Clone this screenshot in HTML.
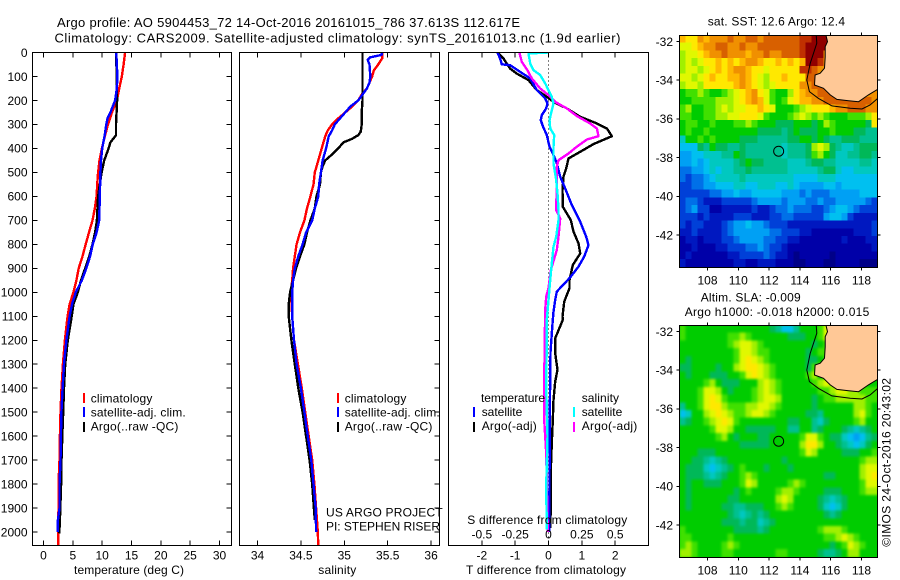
<!DOCTYPE html>
<html lang="en">
<head>
<meta charset="utf-8">
<title>Argo profile 5904453_72</title>
<style>
html,body{margin:0;padding:0;background:#fff;width:900px;height:580px;overflow:hidden}
svg{display:block}
text{font-family:"Liberation Sans",sans-serif;font-size:12px;fill:#000}
</style>
</head>
<body>
<svg id="figure" xmlns="http://www.w3.org/2000/svg" width="900" height="580" viewBox="0 0 900 580">
<defs>
<clipPath id="clip-temp"><rect x="32.5" y="52.5" width="199" height="493"/></clipPath>
<clipPath id="clip-sal"><rect x="239.5" y="52.5" width="200" height="493"/></clipPath>
<clipPath id="clip-diff"><rect x="448.5" y="52.5" width="200" height="493"/></clipPath>
<clipPath id="clip-sst"><rect x="679.5" y="35.5" width="198" height="232"/></clipPath>
<clipPath id="clip-sla"><rect x="679.5" y="325.5" width="198" height="232"/></clipPath>
</defs>
<text x="57" y="27" style="font-size:13px" textLength="463" lengthAdjust="spacing">Argo profile: AO 5904453_72 14-Oct-2016 20161015_786 37.613S 112.617E</text>
<text x="54.5" y="42.5" style="font-size:13px" textLength="566" lengthAdjust="spacing">Climatology: CARS2009. Satellite-adjusted climatology: synTS_20161013.nc (1.9d earlier)</text>
<g id="panel-temp"></g>
<g id="panel-sal"></g>
<g id="panel-diff"></g>
<text x="74" y="574" textLength="110" lengthAdjust="spacing">temperature (deg C)</text>
<text x="318.3" y="574" textLength="38" lengthAdjust="spacing">salinity</text>
<text x="466" y="574" textLength="160" lengthAdjust="spacing">T difference from climatology</text>
<text x="467.3" y="524" textLength="160" lengthAdjust="spacing">S difference from climatology</text>

<g>
<rect x="83" y="393" width="2" height="10" fill="#ff0000"/>
<rect x="83" y="407" width="2" height="10" fill="#0000ff"/>
<rect x="83" y="422" width="2" height="10" fill="#000"/>
<text x="90.7" y="402.3" textLength="61.7" lengthAdjust="spacing">climatology</text>
<text x="90.7" y="416.3" textLength="95" lengthAdjust="spacing">satellite-adj. clim.</text>
<text x="90.7" y="430.3" textLength="87.7" lengthAdjust="spacing">Argo(..raw -QC)</text>
</g>
<g>
<rect x="337" y="393" width="2" height="10" fill="#ff0000"/>
<rect x="337" y="407" width="2" height="10" fill="#0000ff"/>
<rect x="337" y="422" width="2" height="10" fill="#000"/>
<text x="344.7" y="402.3" textLength="61.7" lengthAdjust="spacing">climatology</text>
<text x="344.7" y="416.3" textLength="95" lengthAdjust="spacing">satellite-adj. clim.</text>
<text x="344.7" y="430.3" textLength="87.7" lengthAdjust="spacing">Argo(..raw -QC)</text>
</g>
<text x="326" y="516.7" textLength="116.7" lengthAdjust="spacing">US ARGO PROJECT</text>
<text x="326" y="530.7" textLength="114" lengthAdjust="spacing">PI: STEPHEN RISER</text>

<g>
<text x="481" y="402" textLength="64" lengthAdjust="spacing">temperature</text>
<text x="481.7" y="416" textLength="40.6" lengthAdjust="spacing">satellite</text>
<text x="481.7" y="430" textLength="55" lengthAdjust="spacing">Argo(-adj)</text>
<rect x="473" y="407" width="2" height="10" fill="#0000ff"/>
<rect x="473" y="422" width="2" height="10" fill="#000"/>
<text x="581.7" y="402" textLength="37.3" lengthAdjust="spacing">salinity</text>
<text x="581.7" y="416" textLength="40.6" lengthAdjust="spacing">satellite</text>
<text x="581.7" y="430" textLength="55.6" lengthAdjust="spacing">Argo(-adj)</text>
<rect x="573" y="407" width="2" height="10" fill="#00ffff"/>
<rect x="573" y="422" width="2" height="10" fill="#ff00ff"/>
</g>

<text x="707.7" y="25.7" textLength="137.3" lengthAdjust="spacing">sat. SST: 12.6 Argo: 12.4</text>
<text x="700.7" y="301.3" textLength="100" lengthAdjust="spacing">Altim. SLA: -0.009</text>
<text x="684.7" y="316" textLength="184.6" lengthAdjust="spacing">Argo h1000: -0.018 h2000: 0.015</text>
<g id="map-sst"></g>
<g id="map-sla"></g>
<text transform="translate(890.7 546.7) rotate(-90)" x="0" y="0" textLength="168.7" lengthAdjust="spacing">©IMOS 24-Oct-2016 20:43:02</text>
</svg>

<script>
// ---------- profile data (depth in dbar) ----------
const depthTicks = [0,100,200,300,400,500,600,700,800,900,1000,1100,1200,1300,1400,1500,1600,1700,1800,1900,2000];
const tempTicks = [0,5,10,15,20,25,30];
const salTicks = [34,34.5,35,35.5,36];
const salTickLabels = ['34','34.5','35','35.5','36'];
const tDiffTicks = [-2,-1,0,1,2];
const sDiffTickLabels = ['-0.5','-0.25','0','0.25','0.5'];

const climTempDepth = [0,50,100,150,200,250,300,350,400,450,500,550,600,650,700,750,800,850,900,950,1000,1050,1100,1150,1200,1300,1400,1500,1600,1700,1800,1900,2000,2060];
const climTemp = [13.9,13.65,13.35,12.9,12.5,11.65,11.0,10.45,9.95,9.55,9.3,9.15,9.05,8.75,8.35,7.75,7.2,6.65,6.0,5.6,5.1,4.45,4.1,3.87,3.65,3.3,3.07,2.9,2.8,2.73,2.56,2.56,2.5,2.5];
const satTempDepth = [0,50,100,150,200,225,250,275,300,350,400,450,500,600,700,750,800,850,900,950,1000,1050,1100,1200,1300,1400,1500,1600,1700,1800,1900,1950,2000];
const satTemp = [12.4,12.5,12.6,12.5,12.2,11.8,11.4,10.9,10.7,10.4,10,9.8,9.7,9.6,9.5,9.05,8.4,7.95,7.3,6.55,5.5,4.85,4.45,3.9,3.5,3.25,3.05,2.97,2.9,2.73,2.73,2.45,2.45];
const argoTempDepth = [0,100,200,300,345,375,400,450,500,550,600,650,700,750,800,850,900,950,1000,1050,1100,1200,1300,1400,1500,1600,1700,1750,1950,2005];
const argoTemp = [12.35,12.5,12.55,12.35,12.35,11.4,11.1,10.35,9.9,9.6,9.3,9.2,9.1,8.8,8.35,7.8,7.1,6.4,5.85,5.1,4.8,4.15,3.7,3.5,3.35,3.2,3.07,3.07,2.8,2.7];

const climSalDepth = [0,25,50,75,100,125,150,175,200,225,250,275,300,325,350,400,450,500,550,600,650,700,750,800,850,900,950,1000,1100,1200,1300,1400,1500,1600,1700,1800,1900,2000,2060];
const climSal = [35.44,35.435,35.39,35.34,35.32,35.29,35.26,35.2,35.16,35.09,35.01,34.93,34.86,34.81,34.78,34.74,34.7,34.66,34.645,34.61,34.57,34.54,34.49,34.45,34.43,34.41,34.4,34.385,34.4,34.42,34.465,34.51,34.55,34.59,34.63,34.655,34.675,34.695,34.7];
const satSalDepth = [0,10,20,30,50,100,125,150,175,200,225,250,275,300,325,350,400,450,500,550,600,650,700,750,800,850,900,950,1000,1100,1200,1300,1400,1500,1600,1700,1800,1900,2000];
const satSal = [35.43,35.43,35.3,35.27,35.29,35.3,35.29,35.26,35.21,35.16,35.07,35.01,34.95,34.89,34.86,34.82,34.79,34.75,34.73,34.71,34.7,34.66,34.63,34.56,34.52,34.47,34.43,34.41,34.4,34.4,34.42,34.45,34.5,34.54,34.58,34.62,34.645,34.67,34.675];
const argoSalDepth = [0,100,200,250,300,330,345,360,375,400,425,450,475,500,550,600,650,700,750,800,850,900,950,1000,1050,1100,1200,1300,1400,1500,1600,1700,1800,1900,1950];
const argoSal = [35.21,35.21,35.21,35.2,35.2,35.19,35.16,35.09,34.99,34.93,34.86,34.78,34.75,34.73,34.72,34.68,34.66,34.61,34.57,34.54,34.49,34.445,34.41,34.375,34.36,34.36,34.39,34.43,34.47,34.52,34.56,34.6,34.63,34.65,34.66];

const tSatDiffDepth = [0,25,49,53,81,108,157,192,212,233,261,282,307,344,393,428,462,518,567,636,706,768,803,851,893,938,997,1032,1081,1115,1171,1250,1500,1800,2000];
const tSatDiff = [-1.53,-1.45,-1.4,-1.15,-0.85,-0.55,-0.35,-0.1,-0.03,-0.07,-0.2,-0.23,-0.17,-0.05,0.03,0.15,0.25,0.35,0.5,0.7,0.95,1.13,1.2,1.07,0.9,0.65,0.25,0.2,0.15,0.13,0.1,0.06,0.04,0.03,0.02];
const tArgoDiffDepth = [0,25,67,88,115,157,185,206,233,268,296,317,349,382,414,442,483,518,574,643,699,747,796,838,886,949,983,1039,1101,1115,1192,1254,1323,1372,1449,1532,1629,1740,1893,1983];
const tArgoDiff = [-1.53,-1.35,-1.15,-0.95,-0.6,-0.35,-0.05,0.15,0.55,0.95,1.45,1.75,1.9,1.35,0.95,0.6,0.53,0.45,0.42,0.43,0.67,0.75,0.9,0.95,0.73,0.63,0.63,0.47,0.42,0.43,0.2,0.2,0.27,0.2,0.15,0.13,0.1,0.07,0.07,0.05];
const sArgoDiffDepth = [0,39,74,108,150,178,206,233,265,296,317,349,363,393,421,449,477,546,657,692,768,824,879,907,983,1018,1074,1115,1198,1268,1455,1532,1601,1670,2000];
const sArgoDiff = [-0.218,-0.2,-0.158,-0.125,-0.0625,0,0.05,0.1375,0.2125,0.3125,0.3625,0.375,0.2875,0.2125,0.15,0.075,0.0625,0.0625,0.0575,0.0875,0.075,0.0625,0.0325,0.0175,0,-0.0175,-0.025,-0.025,-0.03,-0.03,-0.0325,-0.0325,-0.025,-0.0175,-0.005];
const sSatDiffDepth = [0,4,46,74,94,129,185,213,240,282,317,344,393,463,532,588,657,699,768,810,879,949,1032,1115,1185,1392,1601,1810,1990];
const sSatDiff = [0,-0.15,-0.1375,-0.1125,-0.0625,-0.025,0.025,0.0375,0.025,0.0075,0.0125,0.0425,0.0375,0.0375,0.0575,0.0675,0.075,0.075,0.0575,0.0375,0.025,0.0125,0,-0.0125,-0.0125,-0.0175,-0.0075,-0.0175,-0.0125];

// ---------- map data: one character per cell, level index 0-19 (base 20) ----------
const sstRows = [
"feegfggghgghhghhhhhhiijjjgggggggg",
"ddefgghhgghgghhhhhhhijjjjgggggggg",
"cddefgghgggfgghgghhhijjjggggggggg",
"cdcdeefefefggfeefefefjjiggggggggg",
"cddcdefefggfeedeeeeeiihggggggggg",
"ddcdefeeffgfedceefeeehhgggggggggg",
"cddceeeeefgfedcdeeeegghhggggggggg",
"abbcbaabcdefgedbaacefgghhhhhhhggg",
"aabbbbcccdefgfdbabdeffgghhhhhhhhg",
"bcaabbcdcddeefedaaabcdeeefgghhhgg",
"bbaabbccddeeedbaaabcdcbcbaaabbbce",
"abbaabaaabbcbaaa999aaa9acbaaaaa9e",
"abaabaaaaaaaa999989a999aabaaa9988",
"7aababaaaa9998888899aa9a988999888",
"66698a9988988888878889cdc98778999",
"556677788a988888878889bca97788998",
"55656777789a998888777899887777887",
"445567677889888888777778997667777",
"434456777787777777766667776666666",
"334455666776677766765555665666666",
"333334455655666665554544455555666",
"344322233333455554555445445555543",
"345331122222322344544433456654333",
"333232222333222334433333566532222",
"323322234556554333222222222222223",
"223222234555555443332211111112223",
"122122233455554433221111111211122",
"112111223334454332111111111111112",
"121111112233334322101111101111111",
"211111111221122211100111001111000"
];
const slaRows = [
"baaaaaaaaaaaaaa98668aaabddaaaaaaa",
"baaaaaaabbcbaaaaaa999aabdcaaaaaaa",
"aaaaaaaabcddcbaaaaaaaa9abccaaaaaa",
"aaaaaaaaabddcbbaaaaaa9abbcaaaaaaa",
"a9aaaaaaabdedcbaaaaaa99abccaaaaaa",
"99aaaa9aacdeedcbaaaaa9bcaaaaaaaaa",
"a9aaa999aabdedcbaaaaabcaaaaaaaaaa",
"aaaabca999aaacdcbaaaaabcdccbaaaaa",
"aaabddca9aaabcdcbaaaaaabbcddccbbb",
"aaabdedbaaaabcddcaaaaa9abbcccccbb",
"8aabdeecbbbccddcbaaaaa9aaaaaaccba",
"67aacdedcbbcddcbaaaaa998aaaaacdba",
"89aabcdedbaaaaaaaa99aa879aaaabcaa",
"aaaaabddcaa99999aa88aa89aaa98789a",
"aaaaaabca9aaa99aaaaabddba99765689",
"aaaaaaaaaa99999aaaaaceecaa987679a",
"aaa999aaaaaaaaaaaaaabdcaaaa999aab",
"aa998789aaaaaaaaa9aaaaaaaaaaaabcc",
"a99976789abaaa9aaa9aaaaaaaaaaacdd",
"a9998789aabcbaaaaaaaaaaa99aaaacde",
"a9aa999aaabdcaaaaabcbaaaaaaaaabdd",
"a9aaaaaaa9abaaaabccbaaaa999aaabcc",
"a9aaaaaa99aaaaaacdcaaaa98789aaaaa",
"a9aaaaa9988999aabcbaaaa97679aaaaa",
"aaaaaaaa9878989aaaaaaaaa989aaaaaa",
"aaaaaaa999899789aaaaaaaaaaaaaaaaa",
"baaaaaaaa999989aaaaaaaabcccbaaaaa",
"bbaaaaaabaaaaaaaaaaaaaaabbcdcbaaa",
"bcbaaaabcbaaaaaaaaaaaaaaa9abdcbaa",
"ccbaaaabbaaaaaaabbaaaaa9889accaaa"
];
const levelColors = ['#000088','#0000a8','#0018c0','#0040d8','#0070e8','#00a0f4','#00c0f0','#00c8c0','#00c090','#00b858','#00cc00','#40e000','#a0f000','#e0f800','#ffe800','#ffb800','#f09000','#d86000','#c03000','#900000'];
const mapLonTicks = [108,110,112,114,116,118];
const mapLatTicks = [-32,-34,-36,-38,-40,-42];
const lonMin = 106.18, lonMax = 119.05, latMax = -31.66, latMin = -43.65;
const landLon = [115.69,115.79,115.64,115.64,115.6,115.32,114.99,114.95,115.53,115.97,116.4,117.16,117.81,118.45,119.05,119.05];
const landLat = [-31.66,-32.01,-32.27,-32.79,-33.38,-33.64,-33.73,-34.25,-34.42,-34.76,-34.99,-35.06,-35.11,-34.76,-34.47,-31.66];
const shelfLon = [115.06,115.1,114.88,114.67,114.45,114.62,115.21,116.08,117.27,118.03,118.56,119.05];
const shelfLat = [-31.66,-32.09,-32.61,-33.13,-33.99,-34.59,-34.94,-35.33,-35.45,-35.49,-35.28,-34.94];
const floatLon = 112.62, floatLat = -37.67;

// ---------- helpers ----------
const NS = 'http://www.w3.org/2000/svg';
function mk(parent, tag, attrs, txt){
  const e = document.createElementNS(NS, tag);
  for (const k in attrs) e.setAttribute(k, attrs[k]);
  if (txt !== undefined) e.textContent = txt;
  parent.appendChild(e);
  return e;
}
const top0 = 52.5, bot0 = 545.5;
const yD = d => 52.5 + d * 0.2398;
const xT = t => 43.5 + t * 5.867;
const xS = s => 257.5 + (s - 34) * 86.8;
const xDT = t => 548.5 + t * 33.35;
const xDS = s => 548.5 + s * 133.4;

function drawFrame(g, x0, x1, opts){
  const frame = mk(g, 'rect', {x:x0, y:top0, width:x1-x0, height:bot0-top0, fill:'none', stroke:'#000', 'stroke-width':1, 'shape-rendering':'crispEdges'});
  
  
  opts.xPos.forEach(function(px, i){
    [[top0, top0+5],[bot0, bot0-5]].forEach(function(p){
      const t = mk(g, 'line', {x1:px, x2:px, y1:p[0], y2:p[1], stroke:'#000', 'shape-rendering':'crispEdges'});
      
      
    });
    const l = mk(g, 'text', {x:px, y:559.3, 'text-anchor':'middle'}, opts.xLabels[i]);
    
    
  });
  depthTicks.forEach(function(d){
    const y = yD(d);
    if (opts.right) {
      const t = mk(g, 'line', {x1:x1, x2:x1-5, y1:y, y2:y, stroke:'#000', 'shape-rendering':'crispEdges'});
      
      
    }
    if (opts.left) {
      const t = mk(g, 'line', {x1:x0, x2:x0+5, y1:y, y2:y, stroke:'#000', 'shape-rendering':'crispEdges'});
      
      
      const l = mk(g, 'text', {x:x0-5, y:y+4.3, 'text-anchor':'end'}, String(d));
      
      
    }
  });
}
function drawLine(g, depths, vals, xf, color, name, clip){
  const pts = depths.map(function(d, i){ return xf(vals[i]).toFixed(1) + ',' + yD(d).toFixed(1); }).join(' ');
  const p = mk(g, 'polyline', {points:pts, fill:'none', stroke:color, 'stroke-width':2.4, 'stroke-linejoin':'round', 'shape-rendering':'crispEdges', 'clip-path':'url(#'+clip+')'});
  
  
}

// ---------- profile panels ----------
const gT = document.getElementById('panel-temp');
drawLine(gT, climTempDepth, climTemp, xT, '#ff0000', 'climatology-temperature-line', 'clip-temp');
drawLine(gT, argoTempDepth, argoTemp, xT, '#000000', 'argo-temperature-line', 'clip-temp');
drawLine(gT, satTempDepth, satTemp, xT, '#0000ff', 'satellite-temperature-line', 'clip-temp');
drawFrame(gT, 32.5, 231.5, {xPos:tempTicks.map(xT), xLabels:tempTicks.map(String), left:true, right:true});

const gS = document.getElementById('panel-sal');
drawLine(gS, climSalDepth, climSal, xS, '#ff0000', 'climatology-salinity-line', 'clip-sal');
drawLine(gS, argoSalDepth, argoSal, xS, '#000000', 'argo-salinity-line', 'clip-sal');
drawLine(gS, satSalDepth, satSal, xS, '#0000ff', 'satellite-salinity-line', 'clip-sal');
drawFrame(gS, 239.5, 439.5, {xPos:salTicks.map(xS), xLabels:salTickLabels, left:false, right:true});

const gD = document.getElementById('panel-diff');
const zero = mk(gD, 'line', {x1:xDT(0), x2:xDT(0), y1:top0, y2:bot0, stroke:'#000', 'stroke-dasharray':'1 3', 'shape-rendering':'crispEdges'});


drawLine(gD, tArgoDiffDepth, tArgoDiff, xDT, '#000000', 'argo-temperature-difference-line', 'clip-diff');
drawLine(gD, tSatDiffDepth, tSatDiff, xDT, '#0000ff', 'satellite-temperature-difference-line', 'clip-diff');
drawLine(gD, sArgoDiffDepth, sArgoDiff, xDS, '#ff00ff', 'argo-salinity-difference-line', 'clip-diff');
drawLine(gD, sSatDiffDepth, sSatDiff, xDS, '#00ffff', 'satellite-salinity-difference-line', 'clip-diff');
drawFrame(gD, 448.5, 648.5, {xPos:tDiffTicks.map(xDT), xLabels:tDiffTicks.map(String), left:false, right:false});
tDiffTicks.forEach(function(t, i){
  const l = mk(gD, 'text', {x:xDT(t), y:538.7, 'text-anchor':'middle'}, sDiffTickLabels[i]);
  
  
});

// ---------- maps ----------
function drawMap(id, rows, yTop, clip, blur){
  const g = document.getElementById(id);
  const xLon = lon => 707.5 + (lon - 108) * 15.4;
  const yLat = lat => yTop + 6 + (-32 - lat) * 19.35;
  const clipG = mk(g, 'g', {'clip-path':'url(#'+clip+')'});
  const bg = mk(clipG, 'rect', {x:679, y:yTop, width:199, height:232, fill:levelColors[10]});
  
  
  const cells = mk(clipG, 'g', blur ? {style:'filter:blur(' + blur + 'px)'} : {});
  const nRows = rows.length, nCols = 33;
  const dLon = (lonMax - lonMin) / nCols, dLat = (latMax - latMin) / nRows;
  rows.forEach(function(row, r){
    for (let c = 0; c < nCols; c++) {
      const v = parseInt(row[c] === undefined ? 'a' : row[c], 20);
      const x0 = xLon(lonMin + c * dLon), x1 = xLon(lonMin + (c + 1) * dLon);
      const y0 = yLat(latMax - r * dLat), y1 = yLat(latMax - (r + 1) * dLat);
      const cell = mk(cells, 'rect', {x:x0.toFixed(1), y:y0.toFixed(1), width:(x1-x0+0.6).toFixed(1), height:(y1-y0+0.6).toFixed(1), fill:levelColors[v], 'shape-rendering':'crispEdges'});
      
      
    }
  });
  const landPts = landLon.map(function(lon, i){ return xLon(lon).toFixed(1) + ',' + yLat(landLat[i]).toFixed(1); }).join(' ');
  const land = mk(clipG, 'polygon', {points:landPts, fill:'#ffc896', stroke:'#000', 'stroke-width':1});
  
  
  const shelfPts = shelfLon.map(function(lon, i){ return xLon(lon).toFixed(1) + ',' + yLat(shelfLat[i]).toFixed(1); }).join(' ');
  const shelf = mk(clipG, 'polyline', {points:shelfPts, fill:'none', stroke:'#000', 'stroke-width':1});
  
  
  const marker = mk(clipG, 'circle', {cx:xLon(floatLon), cy:yLat(floatLat), r:5, fill:'none', stroke:'#000', 'stroke-width':1});
  
  
  const frame = mk(g, 'rect', {x:679.5, y:yTop, width:198, height:232, fill:'none', stroke:'#000', 'shape-rendering':'crispEdges'});
  
  
  mapLonTicks.forEach(function(lon){
    const px = xLon(lon);
    [[yTop, yTop-3],[yTop+232, yTop+235]].forEach(function(p){
      const t = mk(g, 'line', {x1:px, x2:px, y1:p[0], y2:p[1], stroke:'#000', 'shape-rendering':'crispEdges'});
      
      
    });
    const l = mk(g, 'text', {x:px, y:yTop+249, 'text-anchor':'middle'}, String(lon));
    
    
  });
  mapLatTicks.forEach(function(lat){
    const py = yLat(lat);
    [[679.5, 676.5],[877.5, 880.5]].forEach(function(p){
      const t = mk(g, 'line', {x1:p[0], x2:p[1], y1:py, y2:py, stroke:'#000', 'shape-rendering':'crispEdges'});
      
      
    });
    const l = mk(g, 'text', {x:673, y:py+4.3, 'text-anchor':'end'}, String(lat));
    
    
  });
}
drawMap('map-sst', sstRows, 35.5, 'clip-sst', 0);
drawMap('map-sla', slaRows, 325.5, 'clip-sla', 1.3);
</script>
</body>
</html>
